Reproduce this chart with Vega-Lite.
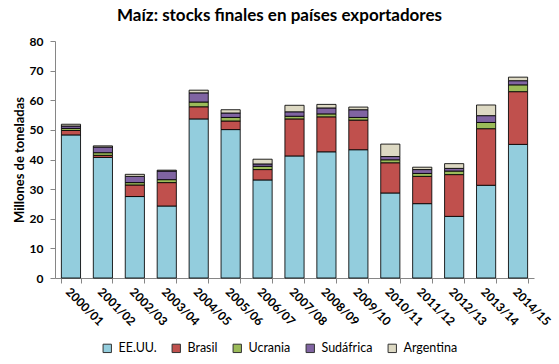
{
  "$schema": "https://vega.github.io/schema/vega-lite/v6.json",
  "width": 479,
  "height": 237,
  "autosize": {"type": "none"},
  "padding": {"left": 55, "top": 41, "right": 25, "bottom": 86},
  "background": "white",
  "title": {
    "text": "Maíz: stocks finales en países exportadores",
    "font": "Lato",
    "fontSize": 17,
    "fontWeight": "bold",
    "color": "#000000",
    "anchor": "middle",
    "dx": -15,
    "offset": 10
  },
  "config": {
    "view": {"stroke": null},
    "font": "Lato",
    "axis": {
      "domainColor": "#868686",
      "tickColor": "#868686",
      "labelColor": "#000000",
      "titleColor": "#000000",
      "labelFont": "Lato",
      "titleFont": "Lato",
      "grid": false
    }
  },
  "data": {
    "values": [
      {"campana": "2000/01", "pais": "EE.UU.", "orden": 1, "valor": 48.3},
      {"campana": "2000/01", "pais": "Brasil", "orden": 2, "valor": 1.5},
      {"campana": "2000/01", "pais": "Ucrania", "orden": 3, "valor": 0.7},
      {"campana": "2000/01", "pais": "Sudáfrica", "orden": 4, "valor": 0.8},
      {"campana": "2000/01", "pais": "Argentina", "orden": 5, "valor": 0.6},
      {"campana": "2001/02", "pais": "EE.UU.", "orden": 1, "valor": 40.7},
      {"campana": "2001/02", "pais": "Brasil", "orden": 2, "valor": 0.7},
      {"campana": "2001/02", "pais": "Ucrania", "orden": 3, "valor": 0.9},
      {"campana": "2001/02", "pais": "Sudáfrica", "orden": 4, "valor": 1.9},
      {"campana": "2001/02", "pais": "Argentina", "orden": 5, "valor": 0.4},
      {"campana": "2002/03", "pais": "EE.UU.", "orden": 1, "valor": 27.5},
      {"campana": "2002/03", "pais": "Brasil", "orden": 2, "valor": 3.9},
      {"campana": "2002/03", "pais": "Ucrania", "orden": 3, "valor": 0.8},
      {"campana": "2002/03", "pais": "Sudáfrica", "orden": 4, "valor": 2.1},
      {"campana": "2002/03", "pais": "Argentina", "orden": 5, "valor": 0.7},
      {"campana": "2003/04", "pais": "EE.UU.", "orden": 1, "valor": 24.3},
      {"campana": "2003/04", "pais": "Brasil", "orden": 2, "valor": 7.9},
      {"campana": "2003/04", "pais": "Ucrania", "orden": 3, "valor": 1.0},
      {"campana": "2003/04", "pais": "Sudáfrica", "orden": 4, "valor": 2.9},
      {"campana": "2003/04", "pais": "Argentina", "orden": 5, "valor": 0.3},
      {"campana": "2004/05", "pais": "EE.UU.", "orden": 1, "valor": 53.7},
      {"campana": "2004/05", "pais": "Brasil", "orden": 2, "valor": 4.1},
      {"campana": "2004/05", "pais": "Ucrania", "orden": 3, "valor": 1.6},
      {"campana": "2004/05", "pais": "Sudáfrica", "orden": 4, "valor": 3.1},
      {"campana": "2004/05", "pais": "Argentina", "orden": 5, "valor": 0.9},
      {"campana": "2005/06", "pais": "EE.UU.", "orden": 1, "valor": 50.1},
      {"campana": "2005/06", "pais": "Brasil", "orden": 2, "valor": 2.9},
      {"campana": "2005/06", "pais": "Ucrania", "orden": 3, "valor": 1.2},
      {"campana": "2005/06", "pais": "Sudáfrica", "orden": 4, "valor": 1.5},
      {"campana": "2005/06", "pais": "Argentina", "orden": 5, "valor": 1.1},
      {"campana": "2006/07", "pais": "EE.UU.", "orden": 1, "valor": 33.1},
      {"campana": "2006/07", "pais": "Brasil", "orden": 2, "valor": 3.5},
      {"campana": "2006/07", "pais": "Ucrania", "orden": 3, "valor": 1.1},
      {"campana": "2006/07", "pais": "Sudáfrica", "orden": 4, "valor": 0.8},
      {"campana": "2006/07", "pais": "Argentina", "orden": 5, "valor": 1.6},
      {"campana": "2007/08", "pais": "EE.UU.", "orden": 1, "valor": 41.2},
      {"campana": "2007/08", "pais": "Brasil", "orden": 2, "valor": 12.5},
      {"campana": "2007/08", "pais": "Ucrania", "orden": 3, "valor": 0.9},
      {"campana": "2007/08", "pais": "Sudáfrica", "orden": 4, "valor": 1.5},
      {"campana": "2007/08", "pais": "Argentina", "orden": 5, "valor": 2.2},
      {"campana": "2008/09", "pais": "EE.UU.", "orden": 1, "valor": 42.6},
      {"campana": "2008/09", "pais": "Brasil", "orden": 2, "valor": 11.8},
      {"campana": "2008/09", "pais": "Ucrania", "orden": 3, "valor": 1.0},
      {"campana": "2008/09", "pais": "Sudáfrica", "orden": 4, "valor": 2.0},
      {"campana": "2008/09", "pais": "Argentina", "orden": 5, "valor": 1.2},
      {"campana": "2009/10", "pais": "EE.UU.", "orden": 1, "valor": 43.3},
      {"campana": "2009/10", "pais": "Brasil", "orden": 2, "valor": 10.0},
      {"campana": "2009/10", "pais": "Ucrania", "orden": 3, "valor": 0.9},
      {"campana": "2009/10", "pais": "Sudáfrica", "orden": 4, "valor": 2.6},
      {"campana": "2009/10", "pais": "Argentina", "orden": 5, "valor": 0.9},
      {"campana": "2010/11", "pais": "EE.UU.", "orden": 1, "valor": 28.7},
      {"campana": "2010/11", "pais": "Brasil", "orden": 2, "valor": 10.2},
      {"campana": "2010/11", "pais": "Ucrania", "orden": 3, "valor": 1.0},
      {"campana": "2010/11", "pais": "Sudáfrica", "orden": 4, "valor": 1.1},
      {"campana": "2010/11", "pais": "Argentina", "orden": 5, "valor": 4.2},
      {"campana": "2011/12", "pais": "EE.UU.", "orden": 1, "valor": 25.1},
      {"campana": "2011/12", "pais": "Brasil", "orden": 2, "valor": 9.2},
      {"campana": "2011/12", "pais": "Ucrania", "orden": 3, "valor": 1.0},
      {"campana": "2011/12", "pais": "Sudáfrica", "orden": 4, "valor": 1.3},
      {"campana": "2011/12", "pais": "Argentina", "orden": 5, "valor": 0.8},
      {"campana": "2012/13", "pais": "EE.UU.", "orden": 1, "valor": 20.8},
      {"campana": "2012/13", "pais": "Brasil", "orden": 2, "valor": 14.1},
      {"campana": "2012/13", "pais": "Ucrania", "orden": 3, "valor": 1.2},
      {"campana": "2012/13", "pais": "Sudáfrica", "orden": 4, "valor": 0.9},
      {"campana": "2012/13", "pais": "Argentina", "orden": 5, "valor": 1.6},
      {"campana": "2013/14", "pais": "EE.UU.", "orden": 1, "valor": 31.3},
      {"campana": "2013/14", "pais": "Brasil", "orden": 2, "valor": 19.1},
      {"campana": "2013/14", "pais": "Ucrania", "orden": 3, "valor": 2.1},
      {"campana": "2013/14", "pais": "Sudáfrica", "orden": 4, "valor": 2.3},
      {"campana": "2013/14", "pais": "Argentina", "orden": 5, "valor": 3.6},
      {"campana": "2014/15", "pais": "EE.UU.", "orden": 1, "valor": 45.1},
      {"campana": "2014/15", "pais": "Brasil", "orden": 2, "valor": 17.8},
      {"campana": "2014/15", "pais": "Ucrania", "orden": 3, "valor": 2.3},
      {"campana": "2014/15", "pais": "Sudáfrica", "orden": 4, "valor": 1.4},
      {"campana": "2014/15", "pais": "Argentina", "orden": 5, "valor": 1.2}
    ]
  },
  "mark": {"type": "bar", "stroke": "#000000", "strokeWidth": 1, "strokeOpacity": 0.85},
  "encoding": {
    "x": {
      "field": "campana",
      "type": "nominal",
      "sort": null,
      "scale": {"paddingInner": 0.4, "paddingOuter": 0.2},
      "axis": {
        "title": null,
        "labelAngle": 45,
        "labelFontSize": 12,
        "labelFontWeight": "bold",
        "tickBand": "extent",
        "tickSize": 5,
        "labelPadding": 3
      }
    },
    "y": {
      "field": "valor",
      "type": "quantitative",
      "stack": "zero",
      "scale": {"domain": [0, 80]},
      "axis": {
        "title": "Millones de toneladas",
        "titleFontSize": 13,
        "titleFontWeight": "bold",
        "titlePadding": 3,
        "labelFontSize": 12,
        "labelFontWeight": "bold",
        "values": [0, 10, 20, 30, 40, 50, 60, 70, 80],
        "tickSize": 5,
        "labelPadding": 7
      }
    },
    "color": {
      "field": "pais",
      "type": "nominal",
      "scale": {
        "domain": ["EE.UU.", "Brasil", "Ucrania", "Sudáfrica", "Argentina"],
        "range": ["#93CDDD", "#C0504D", "#9BBB59", "#8064A2", "#DDD9C3"]
      },
      "legend": {
        "title": null,
        "orient": "none",
        "direction": "horizontal",
        "legendX": 46,
        "legendY": 301,
        "symbolType": "square",
        "symbolSize": 70,
        "symbolStrokeColor": "#333333",
        "symbolStrokeWidth": 1,
        "labelFontSize": 12.5,
        "labelFont": "Lato",
        "labelColor": "#000000",
        "columnPadding": 13,
        "labelOffset": 5
      }
    },
    "order": {"field": "orden", "type": "quantitative"}
  }
}
